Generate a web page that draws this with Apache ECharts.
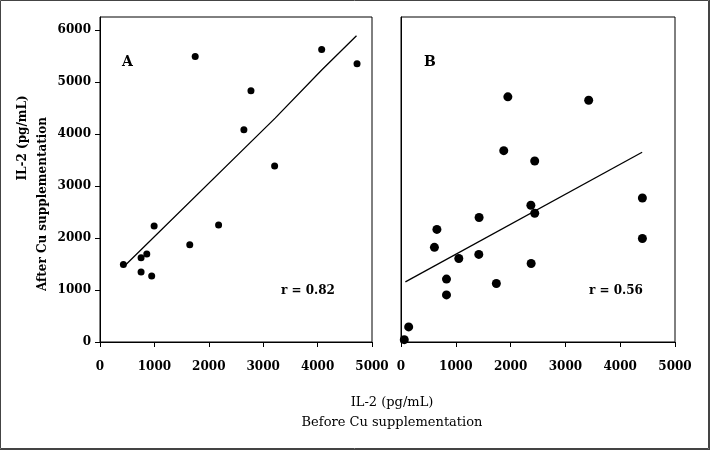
<!DOCTYPE html>
<html>
<head>
<meta charset="utf-8">
<script src="https://cdn.jsdelivr.net/npm/echarts@6/dist/echarts.min.js"></script>
<style>
html,body{margin:0;padding:0;background:#fff;}
#chart{width:710px;height:450px;}
</style>
</head>
<body>
<div id="chart"></div>
<script>
// tick values
var xTicks = [0, 1000, 2000, 3000, 4000, 5000];
var yTicks = [0, 1000, 2000, 3000, 4000, 5000, 6000];

// panel A: before vs after
var pointsA = [
  [430, 1490], [755, 1620], [860, 1690], [755, 1345], [950, 1270],
  [995, 2230], [1650, 1870], [1750, 5490], [2180, 2250], [2645, 4080],
  [2775, 4830], [3210, 3385], [4075, 5625], [4725, 5350]
];
var fitA = [[450, 1460], [3220, 4305], [4080, 5235], [4715, 5890]];

// panel B
var pointsB = [
  [60, 45], [140, 290], [610, 1820], [655, 2165], [830, 1210],
  [830, 905], [1055, 1605], [1425, 2395], [1420, 1685], [1740, 1125],
  [1875, 3680], [1950, 4715], [2370, 2630], [2440, 2475], [2375, 1510],
  [2440, 3480], [3425, 4650], [4405, 2770], [4405, 1990]
];
var fitB = [[80, 1155], [4400, 3650]];

var font = 'DejaVu Serif';

function plain(v) { return String(v); }

function xAxisFor(idx) {
  return {
    type: 'value', gridIndex: idx, min: 0, max: 5000, interval: 1000,
    axisLine: { show: true, lineStyle: { color: '#000', width: 1 } },
    axisTick: { show: true, length: 5, lineStyle: { color: '#000' } },
    axisLabel: { margin: 19, color: '#000', fontFamily: font, fontWeight: 'bold', fontSize: 12, formatter: plain },
    splitLine: { show: false }
  };
}

var myChart = echarts.init(document.getElementById('chart'));
var option = {
  animation: false,
  grid: [
    { left: 100, top: 17, width: 272, height: 325, show: true, borderColor: '#000', borderWidth: 1 },
    { left: 401, top: 17, width: 274, height: 325, show: true, borderColor: '#000', borderWidth: 1 }
  ],
  xAxis: [xAxisFor(0), xAxisFor(1)],
  yAxis: [
    {
      type: 'value', gridIndex: 0, min: 0, max: 6250,
      axisLine: { show: true, lineStyle: { color: '#000' } },
      axisTick: { show: true, length: 5, customValues: yTicks, lineStyle: { color: '#000' } },
      axisLabel: { customValues: yTicks, margin: 9, color: '#000', fontFamily: font, fontWeight: 'bold', fontSize: 12, formatter: plain },
      splitLine: { show: false }
    },
    {
      type: 'value', gridIndex: 1, min: 0, max: 6250,
      axisLine: { show: true, lineStyle: { color: '#000' } },
      axisTick: { show: false },
      axisLabel: { show: false },
      splitLine: { show: false }
    }
  ],
  series: [
    { type: 'scatter', xAxisIndex: 0, yAxisIndex: 0, data: pointsA, symbolSize: 7, itemStyle: { color: '#000', opacity: 1 } },
    { type: 'line', xAxisIndex: 0, yAxisIndex: 0, data: fitA, showSymbol: false, lineStyle: { color: '#000', width: 1.3 } },
    { type: 'scatter', xAxisIndex: 1, yAxisIndex: 1, data: pointsB, symbolSize: 9, itemStyle: { color: '#000', opacity: 1 } },
    { type: 'line', xAxisIndex: 1, yAxisIndex: 1, data: fitB, showSymbol: false, lineStyle: { color: '#000', width: 1.3 } }
  ],
  graphic: [
    { type: 'rect', shape: { x: 0.5, y: 0.5, width: 708, height: 448 }, style: { fill: 'none', stroke: '#444', lineWidth: 1 } },
    { type: 'line', shape: { x1: 709.5, y1: 0, x2: 709.5, y2: 450 }, style: { stroke: '#444', lineWidth: 1 } },
    { type: 'line', shape: { x1: 0, y1: 449.5, x2: 710, y2: 449.5 }, style: { stroke: '#444', lineWidth: 1 } },
    { type: 'text', x: 122, y: 55, style: { text: 'A', font: 'bold 14px "DejaVu Serif"', fill: '#000' } },
    { type: 'text', x: 424, y: 55, style: { text: 'B', font: 'bold 14px "DejaVu Serif"', fill: '#000' } },
    { type: 'text', x: 281, y: 285, style: { text: 'r = 0.82', font: 'bold 12px "DejaVu Serif"', fill: '#000' } },
    { type: 'text', x: 589, y: 285, style: { text: 'r = 0.56', font: 'bold 12px "DejaVu Serif"', fill: '#000' } },
    { type: 'text', x: 23, y: 138, rotation: Math.PI / 2,
      style: { text: 'IL-2 (pg/mL)', font: 'bold 12px "DejaVu Serif"', fill: '#000', align: 'center', verticalAlign: 'middle' } },
    { type: 'text', x: 43, y: 204, rotation: Math.PI / 2,
      style: { text: 'After Cu supplementation', font: 'bold 12px "DejaVu Serif"', fill: '#000', align: 'center', verticalAlign: 'middle' } },
    { type: 'text', x: 392, y: 403,
      style: { text: 'IL-2 (pg/mL)', font: '13px "DejaVu Serif"', fill: '#000', align: 'center', verticalAlign: 'middle' } },
    { type: 'text', x: 392, y: 423,
      style: { text: 'Before Cu supplementation', font: '13px "DejaVu Serif"', fill: '#000', align: 'center', verticalAlign: 'middle' } }
  ]
};
myChart.setOption(option);
</script>
</body>
</html>
